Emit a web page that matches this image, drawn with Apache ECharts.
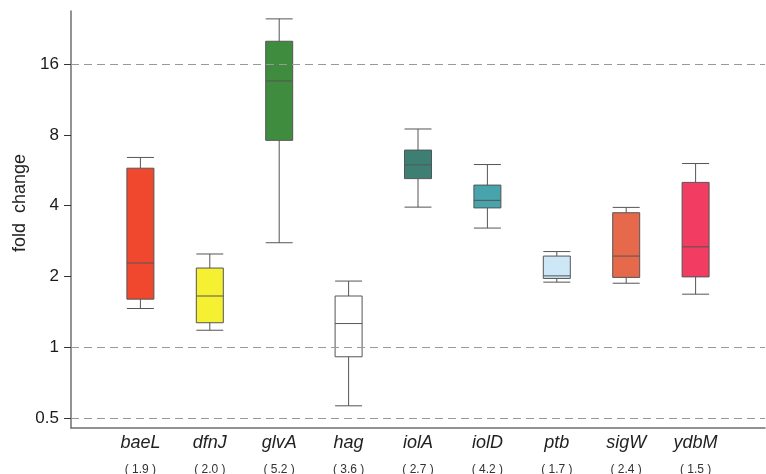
<!DOCTYPE html>
<html>
<head>
<meta charset="utf-8">
<script src="https://cdn.jsdelivr.net/npm/echarts@6/dist/echarts.min.js"></script>
<style>
html,body{margin:0;padding:0;background:#fff;}
#chart{width:766px;height:474px;}
</style>
</head>
<body>
<div id="chart"></div>
<script>
// ---- data ----
var genes = ['baeL', 'dfnJ', 'glvA', 'hag', 'iolA', 'iolD', 'ptb', 'sigW', 'ydbM'];
var geneNotes = ['1.9', '2.0', '5.2', '3.6', '2.7', '4.2', '1.7', '2.4', '1.5'];
// [min, Q1, median, Q3, max] fold change
var boxMin    = [1.46, 1.18, 2.78, 0.563, 3.94, 3.21, 1.89, 1.87, 1.68];
var boxQ1     = [1.60, 1.27, 7.58, 0.91, 5.21, 3.91, 1.96, 1.98, 1.99];
var boxMedian = [2.28, 1.65, 13.56, 1.26, 5.96, 4.21, 2.01, 2.44, 2.67];
var boxQ3     = [5.77, 2.17, 20.0, 1.65, 6.89, 4.89, 2.44, 3.73, 5.02];
var boxMax    = [6.41, 2.49, 24.9, 1.91, 8.47, 5.98, 2.55, 3.93, 6.04];
var boxColors = ['#F0482E', '#F6F033', '#3F8C3F', '#FFFFFF', '#3D7F73', '#47A3AC', '#CDE7F7', '#E5694A', '#F23C62'];
var yTicks = [0.5, 1, 2, 4, 8, 16];
var refLines = [0.5, 1, 16];

var boxData = genes.map(function (g, i) {
  return {
    value: [boxMin[i], boxQ1[i], boxMedian[i], boxQ3[i], boxMax[i]],
    itemStyle: { color: boxColors[i], borderColor: '#555555', borderWidth: 1 }
  };
});

var chart = echarts.init(document.getElementById('chart'), null, { renderer: 'canvas' });
chart.setOption({
  animation: false,
  backgroundColor: '#ffffff',
  grid: { left: 71, right: 1, top: 11, bottom: 46, containLabel: false, outerBoundsMode: 'none' },
  xAxis: {
    type: 'category',
    data: genes,
    boundaryGap: false,
    min: -1,
    max: genes.length,
    axisLine: { lineStyle: { color: '#6f6f6f', width: 1.5 } },
    axisTick: { show: false },
    splitLine: { show: false },
    axisLabel: {
      interval: 0,
      margin: 4,
      formatter: function (v) {
        var i = genes.indexOf(v);
        if (i < 0) return '';
        return '{a|' + v + '}\n{b|( ' + geneNotes[i] + ' )}';
      },
      rich: {
        a: { fontFamily: 'Liberation Sans', fontStyle: 'italic', fontSize: 18, color: '#222', lineHeight: 22 },
        b: { fontFamily: 'Liberation Sans', fontSize: 12, color: '#333', lineHeight: 32 }
      }
    }
  },
  yAxis: {
    type: 'log',
    logBase: 2,
    min: 0.453,
    max: 26.9,
    name: 'fold  change',
    nameLocation: 'middle',
    nameGap: 42,
    nameMoveOverlap: false,
    nameRotate: 90,
    nameTextStyle: { fontFamily: 'Liberation Sans', fontSize: 18, color: '#222', padding: [0, 0, 0, 33] },
    axisLine: { show: true, lineStyle: { color: '#6f6f6f', width: 1.5 } },
    axisTick: { show: true, length: 7, lineStyle: { color: '#333' }, customValues: yTicks },
    splitLine: { show: false },
    minorTick: { show: false },
    axisLabel: {
      customValues: yTicks,
      margin: 12,
      fontFamily: 'Liberation Sans',
      fontSize: 17,
      color: '#1a1a1a',
      formatter: function (v) { return String(Math.round(v * 100) / 100); }
    }
  },
  series: [
    {
      type: 'line',
      data: [],
      z: 1,
      silent: true,
      markLine: {
        silent: true,
        symbol: ['none', 'none'],
        label: { show: false },
        lineStyle: { color: '#999999', type: [8, 5], width: 1 },
        data: refLines.map(function (v) { return { yAxis: v }; })
      }
    },
    {
      type: 'boxplot',
      z: 3,
      boxWidth: [27, 27],
      data: boxData
    }
  ]
});
</script>
</body>
</html>
